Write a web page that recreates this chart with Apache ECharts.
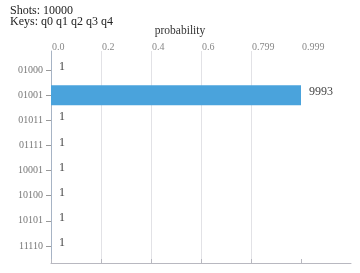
<!DOCTYPE html>
<html>
<head>
<meta charset="utf-8">
<script src="https://cdn.jsdelivr.net/npm/echarts@6/dist/echarts.min.js"></script>
<style>html,body{margin:0;padding:0;background:#fff}#c{width:360px;height:273px}</style>
</head>
<body>
<div id="c"></div>
<script>
const shots = 10000;
const keys = ['q0','q1','q2','q3','q4'];
const categories = ['01000','01001','01011','01111','10001','10100','10101','11110'];
const counts = [1, 9993, 1, 1, 1, 1, 1, 1];
const tickLabels = ['0.0','0.2','0.4','0.6','0.799','0.999'];

const probs = counts.map(c => c / shots);
const maxP = Math.max(...probs);
const step = maxP / (tickLabels.length - 1);
const tickValues = tickLabels.map((_, i) => i * step);
const xMax = step * tickLabels.length;

const FONT = 'Liberation Serif';
const chart = echarts.init(document.getElementById('c'), null, {renderer: 'canvas'});
chart.setOption({
  animation: false,
  textStyle: {fontFamily: FONT},
  title: [
    {text: 'Shots: ' + shots + '\nKeys: ' + keys.join(' '), left: 10, top: 5, padding: 0,
     textStyle: {fontFamily: FONT, fontSize: 12, fontWeight: 'normal', color: '#222', lineHeight: 11.5}},
    {text: 'probability', left: 180, top: 25, textAlign: 'center', padding: 0,
     textStyle: {fontFamily: FONT, fontSize: 11.5, fontWeight: 'normal', color: '#333'}}
  ],
  grid: [
    {left: 51, top: 51, width: 300, height: 212},
    {left: 51, top: 57.5, width: 300, height: 201}
  ],
  xAxis: [
    {gridIndex: 0, type: 'value', position: 'top', min: 0, max: xMax,
     axisLine: {show: true, lineStyle: {color: '#b8b8c0'}},
     axisTick: {show: true, length: 4, customValues: tickValues, lineStyle: {color: '#b8b8c0'}},
     axisLabel: {customValues: tickValues, margin: -1, align: 'left', padding: [0, 0, 0, 1],
       fontFamily: FONT, fontSize: 10, color: '#888',
       formatter: (v) => { const i = tickValues.findIndex(t => Math.abs(t - v) < 1e-9); return i >= 0 ? tickLabels[i] : ''; }},
     splitLine: {show: true, showMinLine: false, showMaxLine: false, lineStyle: {color: '#e2e2e6'}}},
    {gridIndex: 1, type: 'value', min: 0, max: xMax, show: false}
  ],
  yAxis: [
    {gridIndex: 0, type: 'value', min: 0, max: 1, axisLabel: {show: false}, axisTick: {show: false},
     splitLine: {show: false}, axisLine: {show: true, lineStyle: {color: '#a8b4c4'}}},
    {gridIndex: 1, type: 'category', data: categories, inverse: true,
     axisLine: {show: false},
     axisTick: {show: true, alignWithLabel: true, length: 5, lineStyle: {color: '#999'}},
     axisLabel: {margin: 8, fontFamily: FONT, fontSize: 10, color: '#777', padding: [0, 0, 6, 0]},
     splitLine: {show: false}}
  ],
  series: [{
    type: 'bar', xAxisIndex: 1, yAxisIndex: 1,
    data: probs, barWidth: 20,
    itemStyle: {color: '#4aa3dc'},
    label: {show: true, position: 'right', distance: 8, offset: [0, -3],
      fontFamily: FONT, fontSize: 12, color: '#444',
      formatter: (p) => String(counts[p.dataIndex])}
  }]
});
</script>
</body>
</html>
